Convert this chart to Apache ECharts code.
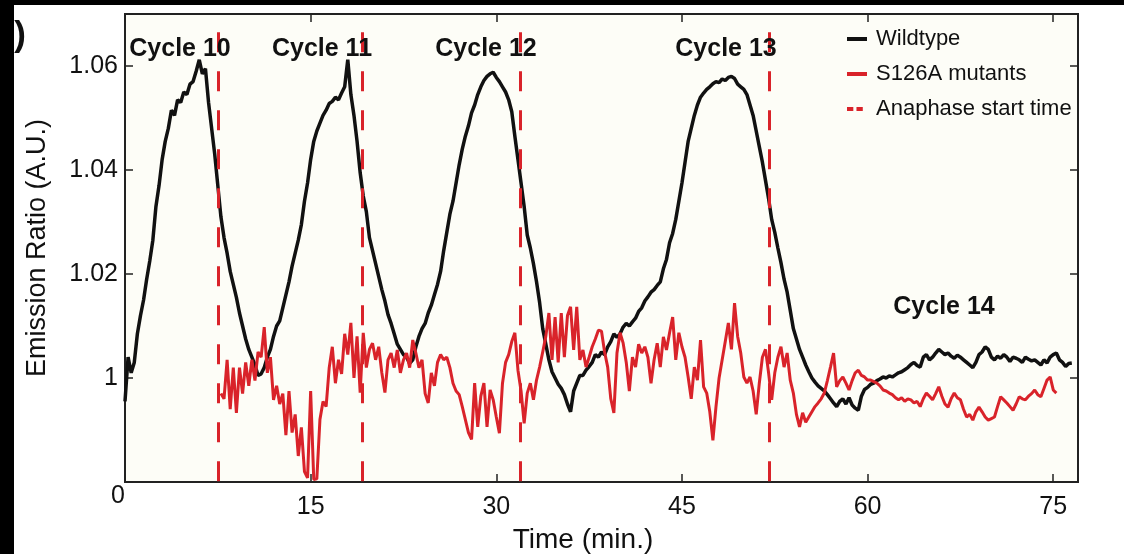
<!DOCTYPE html>
<html>
<head>
<meta charset="utf-8">
<script src="https://cdn.jsdelivr.net/npm/echarts@6/dist/echarts.min.js"></script>
<style>
html, body { margin: 0; padding: 0; background: #fff; }
#main { width: 1124px; height: 554px; }
</style>
</head>
<body>
<div id="main"></div>
<script>
// sampling of the traces (minutes)
var step = 0.25;
var wildtypeStart = 0;
var mutantStart = 7.75;

// Wildtype emission ratio, one value every 0.25 min from t = 0
var wildtype = [
    0.9955, 1.0040, 1.0010, 1.0030, 1.0085, 1.0120, 1.0150, 1.0190,
    1.0225, 1.0265, 1.0330, 1.0370, 1.0420, 1.0455, 1.0480, 1.0515,
    1.0505, 1.0535, 1.0530, 1.0550, 1.0545, 1.0565, 1.0570, 1.0590,
    1.0612, 1.0585, 1.0595, 1.0530, 1.0480, 1.0430, 1.0370, 1.0310,
    1.0270, 1.0240, 1.0205, 1.0180, 1.0155, 1.0125, 1.0100, 1.0075,
    1.0055, 1.0040, 1.0025, 1.0005, 1.0008, 1.0020, 1.0040, 1.0055,
    1.0080, 1.0100, 1.0110, 1.0135, 1.0160, 1.0185, 1.0215, 1.0240,
    1.0265, 1.0295, 1.0340, 1.0375, 1.0420, 1.0455, 1.0475, 1.0490,
    1.0505, 1.0515, 1.0528, 1.0532, 1.0540, 1.0535, 1.0548, 1.0560,
    1.0612, 1.0545, 1.0505, 1.0455, 1.0395, 1.0350, 1.0320, 1.0270,
    1.0245, 1.0220, 1.0195, 1.0170, 1.0148, 1.0122, 1.0105, 1.0085,
    1.0065, 1.0055, 1.0045, 1.0040, 1.0028, 1.0035, 1.0060, 1.0080,
    1.0095, 1.0105, 1.0125, 1.0140, 1.0160, 1.0180, 1.0205, 1.0245,
    1.0280, 1.0315, 1.0340, 1.0375, 1.0410, 1.0440, 1.0465, 1.0485,
    1.0510, 1.0525, 1.0545, 1.0560, 1.0572, 1.0580, 1.0585, 1.0588,
    1.0578, 1.0570, 1.0560, 1.0550, 1.0535, 1.0512, 1.0465, 1.0420,
    1.0375, 1.0330, 1.0275, 1.0250, 1.0220, 1.0185, 1.0145, 1.0095,
    1.0065, 1.0035, 1.0012, 1.0000, 0.9988, 0.9980, 0.9968, 0.9950,
    0.9935, 0.9975, 0.9990, 1.0005, 1.0005, 1.0015, 1.0022, 1.0030,
    1.0045, 1.0040, 1.0050, 1.0045, 1.0060, 1.0070, 1.0085, 1.0078,
    1.0085, 1.0098, 1.0105, 1.0100, 1.0108, 1.0115, 1.0128, 1.0135,
    1.0148, 1.0156, 1.0165, 1.0170, 1.0178, 1.0185, 1.0210, 1.0228,
    1.0260, 1.0278, 1.0305, 1.0340, 1.0375, 1.0415, 1.0455, 1.0480,
    1.0505, 1.0525, 1.0540, 1.0548, 1.0555, 1.0560, 1.0566, 1.0570,
    1.0568, 1.0575, 1.0572, 1.0578, 1.0580, 1.0576, 1.0565, 1.0560,
    1.0555, 1.0545, 1.0525, 1.0505, 1.0475, 1.0445, 1.0415, 1.0380,
    1.0345, 1.0305, 1.0280, 1.0250, 1.0222, 1.0190, 1.0165, 1.0130,
    1.0095, 1.0075, 1.0055, 1.0040, 1.0025, 1.0012, 1.0000, 0.9992,
    0.9985, 0.9980, 0.9975, 0.9968, 0.9960, 0.9952, 0.9945, 0.9955,
    0.9960, 0.9950, 0.9962, 0.9948, 0.9942, 0.9938, 0.9965, 0.9978,
    0.9982, 0.9988, 0.9990, 0.9995, 0.9998, 1.0002, 1.0000, 1.0004,
    1.0002, 1.0006, 1.0010, 1.0012, 1.0016, 1.0020, 1.0026, 1.0030,
    1.0024, 1.0021, 1.0040, 1.0045, 1.0035, 1.0040, 1.0048, 1.0055,
    1.0050, 1.0045, 1.0048, 1.0042, 1.0038, 1.0044, 1.0040, 1.0035,
    1.0030, 1.0025, 1.0020, 1.0030, 1.0045, 1.0050, 1.0060, 1.0055,
    1.0040, 1.0035, 1.0042, 1.0038, 1.0045, 1.0040, 1.0032, 1.0040,
    1.0038, 1.0035, 1.0030, 1.0040, 1.0036, 1.0033, 1.0035, 1.0030,
    1.0025, 1.0035, 1.0029, 1.0040, 1.0045, 1.0048, 1.0035, 1.0030,
    1.0022, 1.0028, 1.0029
];

// S126A mutant emission ratio, one value every 0.25 min from t = 7.75
var mutant = [
    0.9970,
    0.9960, 1.0035, 0.9940, 1.0020, 0.9933, 1.0020, 0.9970, 1.0030,
    0.9985, 1.0035, 0.9995, 1.0050, 1.0040, 1.0098, 1.0010, 1.0040,
    0.9958, 0.9985, 0.9950, 0.9970, 0.9890, 0.9975, 0.9895, 0.9930,
    0.9850, 0.9905, 0.9820, 0.9808, 0.9975, 0.9805, 0.9806, 0.9920,
    0.9955, 0.9945, 1.0020, 1.0060, 0.9990, 1.0035, 1.0008, 1.0085,
    1.0045, 1.0106, 1.0000, 1.0080, 0.9972, 1.0087, 1.0020, 1.0055,
    1.0067, 1.0035, 1.0060, 1.0010, 0.9972, 1.0035, 1.0048, 1.0020,
    1.0054, 1.0010, 1.0035, 1.0048, 1.0020, 1.0073, 1.0048, 1.0020,
    1.0035, 0.9970, 0.9952, 1.0010, 0.9985, 1.0030, 1.0045, 1.0035,
    1.0040, 1.0020, 0.9990, 0.9975, 0.9968, 0.9945, 0.9920, 0.9895,
    0.9882, 0.9990, 0.9906, 0.9965, 0.9990, 0.9906, 0.9977, 0.9958,
    0.9925, 0.9894, 0.9990, 1.0030, 1.0045, 1.0070, 1.0087, 1.0015,
    0.9975, 0.9913, 0.9971, 0.9990, 0.9958, 0.9996, 1.0021, 1.0050,
    1.0080, 1.0125, 1.0035, 1.0117, 1.0030, 1.0125, 1.0040, 1.0120,
    1.0137, 1.0054, 1.0137, 1.0035, 1.0054, 1.0021, 1.0040, 1.0060,
    1.0075, 1.0092, 1.0090, 1.0050, 1.0021, 0.9960, 0.9933, 1.0048,
    1.0087, 1.0067, 1.0030, 0.9975, 1.0040, 1.0021, 1.0065, 1.0048,
    1.0060, 1.0040, 0.9990, 1.0035, 1.0067, 1.0021, 1.0079, 1.0054,
    1.0087, 1.0117, 1.0035, 1.0087, 1.0060, 1.0040, 1.0002, 0.9960,
    1.0021, 0.9996, 1.0073, 0.9983, 0.9971, 0.9935, 0.9880, 0.9945,
    1.0000, 1.0035, 1.0070, 1.0106, 1.0055, 1.0144, 1.0080, 1.0048,
    1.0002, 0.9990, 1.0002, 0.9975, 0.9930, 0.9990, 1.0040, 1.0055,
    1.0010, 0.9958, 1.0010, 1.0040, 1.0060, 1.0021, 1.0048, 0.9996,
    0.9971, 0.9930, 0.9906, 0.9933, 0.9915, 0.9925, 0.9935, 0.9945,
    0.9952, 0.9960, 0.9971, 0.9995, 1.0021, 1.0048, 0.9983, 0.9995,
    1.0002, 0.9990, 0.9977, 0.9995, 1.0010, 1.0015, 1.0005, 1.0002,
    0.9996, 0.9996, 0.9993, 0.9990, 0.9985, 0.9977, 0.9975, 0.9971,
    0.9968, 0.9962, 0.9958, 0.9962, 0.9955, 0.9960, 0.9958, 0.9952,
    0.9955, 0.9945, 0.9960, 0.9971, 0.9965, 0.9958, 0.9970, 0.9983,
    0.9965, 0.9950, 0.9944, 0.9960, 0.9971, 0.9962, 0.9958, 0.9940,
    0.9925, 0.9930, 0.9919, 0.9935, 0.9944, 0.9935, 0.9925, 0.9919,
    0.9922, 0.9925, 0.9945, 0.9964, 0.9958, 0.9952, 0.9945, 0.9938,
    0.9950, 0.9964, 0.9960, 0.9958, 0.9965, 0.9970, 0.9977, 0.9968,
    0.9964, 0.9980, 0.9996, 1.0002, 0.9977, 0.9971
];

// anaphase start times (min)
var anaphase = [7.5, 19.2, 31.9, 52.05];
var cycleNames = ['Cycle 10', 'Cycle 11', 'Cycle 12', 'Cycle 13', 'Cycle 14'];
var xTicks = [15, 30, 45, 60, 75];
var yTicks = [1, 1.02, 1.04, 1.06];

var red = '#d9232a', ink = '#111', font = '"Liberation Sans", Arial, sans-serif';

function toPairs(start, values) {
    return values.map(function (v, i) { return [start + i * step, v]; });
}
function ticks() {
    return { show: true, inside: true, length: 8, lineStyle: { color: '#222', width: 1.5 } };
}

var chart = echarts.init(document.getElementById('main'));

var cyclePos = [[180, 49], [322, 49], [486, 49], [726, 49], [944, 307]];
var graphics = [
    { type: 'rect', shape: { x: 0, y: 0, width: 1124, height: 5 }, style: { fill: '#000' } },
    { type: 'rect', shape: { x: 0, y: 0, width: 14, height: 554 }, style: { fill: '#000' } },
    { type: 'text', x: 20, y: 36, style: { text: ')', font: 'bold 35px ' + font, fill: ink, align: 'center', verticalAlign: 'middle' } },
    { type: 'text', x: 118, y: 496, style: { text: '0', font: '25px ' + font, fill: ink, align: 'center', verticalAlign: 'middle' } }
];
cycleNames.forEach(function (name, i) {
    graphics.push({
        type: 'text', x: cyclePos[i][0], y: cyclePos[i][1], z: 10,
        style: { text: name, font: 'bold 25px ' + font, fill: ink, align: 'center', verticalAlign: 'middle' }
    });
});

var option = {
    animation: false,
    textStyle: { fontFamily: font },
    grid: {
        left: 125, top: 14, right: 46, bottom: 72,
        outerBoundsMode: 'none', containLabel: false,
        show: true, backgroundColor: '#fdfdf7', borderColor: '#222', borderWidth: 2
    },
    legend: {
        orient: 'vertical', left: 842, top: 23,
        itemWidth: 20, itemHeight: 14, itemGap: 13,
        textStyle: { fontSize: 22, color: ink, padding: [0, 0, 0, 4] },
        data: [
            { name: 'Wildtype', icon: 'path://M0,0h20v4h-20z', itemStyle: { color: ink } },
            { name: 'S126A mutants', icon: 'path://M0,0h20v4h-20z', itemStyle: { color: red } },
            { name: 'Anaphase start time', icon: 'path://M1,0h6v4h-6z M10,0h6v4h-6z M19.9,1.9h0.1v0.2h-0.1z', itemStyle: { color: red } }
        ]
    },
    xAxis: [{
        type: 'value', min: 0, max: 77, interval: 15,
        axisLine: { show: false, onZero: false }, splitLine: { show: false },
        axisTick: ticks(),
        axisLabel: {
            fontSize: 25, color: ink, margin: 13, showMaxLabel: false,
            formatter: function (v) { return xTicks.indexOf(v) >= 0 ? String(v) : ''; }
        },
        name: 'Time (min.)', nameLocation: 'middle', nameGap: 44,
        nameTextStyle: { fontSize: 28, color: ink, padding: [0, 37, 0, 0] }
    }, {
        type: 'value', position: 'top', min: 0, max: 77, interval: 15,
        axisLine: { show: false, onZero: false }, splitLine: { show: false },
        axisTick: ticks(), axisLabel: { show: false }
    }],
    yAxis: [{
        type: 'value', min: 0.98, max: 1.07, interval: 0.02,
        axisLine: { show: false, onZero: false }, splitLine: { show: false },
        axisTick: ticks(),
        axisLabel: {
            fontSize: 25, color: ink, margin: 7,
            formatter: function (v) {
                for (var i = 0; i < yTicks.length; i++) {
                    if (Math.abs(v - yTicks[i]) < 1e-6) return yTicks[i] === 1 ? '1' : yTicks[i].toFixed(2);
                }
                return '';
            }
        },
        name: 'Emission Ratio (A.U.)', nameLocation: 'middle', nameGap: 74,
        nameTextStyle: { fontSize: 27, color: ink }
    }, {
        type: 'value', position: 'right', min: 0.98, max: 1.07, interval: 0.02,
        axisLine: { show: false, onZero: false }, splitLine: { show: false },
        axisTick: ticks(), axisLabel: { show: false }
    }],
    series: [{
        name: 'Wildtype', type: 'line', showSymbol: false, symbol: 'none',
        data: toPairs(wildtypeStart, wildtype),
        lineStyle: { color: ink, width: 3.5 }, itemStyle: { color: ink }, z: 3
    }, {
        name: 'S126A mutants', type: 'line', showSymbol: false, symbol: 'none',
        data: toPairs(mutantStart, mutant),
        lineStyle: { color: red, width: 3 }, itemStyle: { color: red }, z: 4
    }, {
        name: 'Anaphase start time', type: 'line', showSymbol: false, symbol: 'none',
        data: [],
        lineStyle: { color: red, width: 3, type: [20, 19] }, itemStyle: { color: red }, z: 5,
        markLine: {
            silent: true, symbol: 'none', label: { show: false },
            lineStyle: { color: red, width: 3, type: [20, 19] },
            data: anaphase.map(function (t) { return [{ coord: [t, 1.0665] }, { coord: [t, 0.98] }]; })
        }
    }],
    graphic: graphics
};

chart.setOption(option);
window.onresize = chart.resize;
</script>
</body>
</html>
